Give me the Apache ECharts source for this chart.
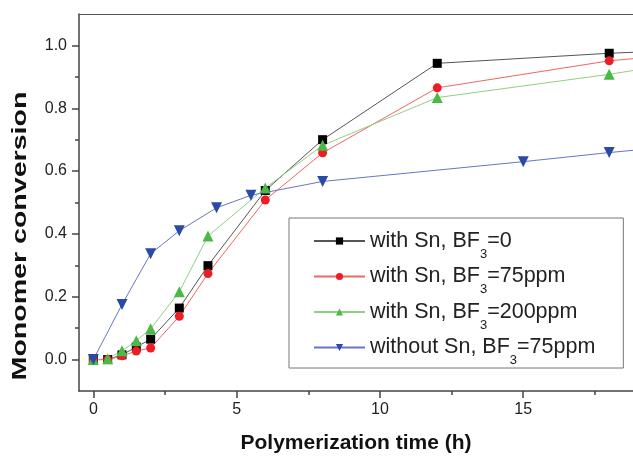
<!DOCTYPE html>
<html>
<head>
<meta charset="utf-8">
<script src="https://cdn.jsdelivr.net/npm/echarts@6/dist/echarts.min.js"></script>
<style>
  html, body { margin: 0; padding: 0; background: #fff; }
  #main { width: 633px; height: 459px; }
</style>
</head>
<body>
<div id="main"></div>
<script>
// data (time in h, conversion 0..1)
var timeSn = [0, 0.5, 1, 1.5, 2, 3, 4, 6, 8, 12, 18, 24];
var snBF0 = [0, 0, 0.015, 0.04, 0.065, 0.164, 0.299, 0.538, 0.70, 0.943, 0.975, 0.997];
var snBF75 = [0, 0, 0.012, 0.027, 0.037, 0.138, 0.274, 0.508, 0.658, 0.865, 0.951, 1.0];
var snBF200 = [0, 0.003, 0.028, 0.06, 0.098, 0.216, 0.393, 0.546, 0.682, 0.834, 0.908, 0.995];
var timeNoSn = [0, 1, 2, 3, 4.3, 5.5, 8, 15, 18, 24];
var noSnBF75 = [0, 0.175, 0.337, 0.41, 0.483, 0.523, 0.567, 0.63, 0.659, 0.71];

var xTicks = [0, 5, 10, 15];
var xMinorTicks = [2.5, 7.5, 12.5, 17.5];
var yTicks = [0, 0.2, 0.4, 0.6, 0.8, 1.0];
var yMinorTicks = [0.1, 0.3, 0.5, 0.7, 0.9];

var seriesNames = ['with Sn, BF3=0', 'with Sn, BF3=75ppm', 'with Sn, BF3=200ppm', 'without Sn, BF3=75ppm'];

function pairs(xs, ys) {
  return xs.map(function (x, i) { return [x, ys[i]]; });
}

var font = 'Liberation Sans, Arial, sans-serif';
var myChart = echarts.init(document.getElementById('main'));

function mkSeries(name, data, symbol, size, markColor, lineColor) {
  return {
    name: name,
    type: 'line',
    data: data,
    symbol: symbol,
    symbolSize: size,
    itemStyle: { color: markColor },
    lineStyle: { color: lineColor, width: 1 },
    emphasis: { disabled: true },
    animation: false
  };
}

var option = {
  animation: false,
  grid: { left: 79, right: 0, top: 14, bottom: 63 },
  xAxis: [
    {
      type: 'value', min: -0.5, max: 18.83,
      axisLine: { onZero: false, lineStyle: { color: '#444', width: 1.5 } },
      axisTick: { customValues: xTicks, length: 7, lineStyle: { color: '#444', width: 1.5 } },
      axisLabel: { customValues: xTicks, fontSize: 16, color: '#222', fontFamily: font, margin: 11 },
      splitLine: { show: false },
      name: 'Polymerization time (h)',
      nameLocation: 'middle',
      nameGap: 42,
      nameTextStyle: { fontSize: 21, fontWeight: 'bold', color: '#111', fontFamily: font }
    },
    {
      type: 'value', min: -0.5, max: 18.83, position: 'bottom',
      axisLine: { show: false, onZero: false },
      axisTick: { customValues: xMinorTicks, length: 4, lineStyle: { color: '#444', width: 1.5 } },
      axisLabel: { show: false },
      splitLine: { show: false }
    },
    {
      type: 'value', min: -0.5, max: 18.83, position: 'top',
      axisLine: { onZero: false, lineStyle: { color: '#555', width: 1 } },
      axisTick: { show: false },
      axisLabel: { show: false },
      splitLine: { show: false }
    }
  ],
  yAxis: [
    {
      type: 'value', min: -0.1, max: 1.1,
      axisLine: { show: true, onZero: false, lineStyle: { color: '#444', width: 1.5 } },
      axisTick: { show: true, customValues: yTicks, length: 7, lineStyle: { color: '#444', width: 1.5 } },
      axisLabel: {
        customValues: yTicks, fontSize: 16, color: '#222', fontFamily: font, margin: 12,
        formatter: function (v) { return v.toFixed(1); }
      },
      splitLine: { show: false }
    },
    {
      type: 'value', min: -0.1, max: 1.1, position: 'left',
      axisLine: { show: false, onZero: false },
      axisTick: { show: true, customValues: yMinorTicks, length: 4, lineStyle: { color: '#444', width: 1.5 } },
      axisLabel: { show: false },
      splitLine: { show: false }
    }
  ],
  legend: {
    orient: 'vertical',
    left: 289, top: 218,
    padding: [12, 28, 1, 24],
    itemWidth: 51, itemHeight: 9, itemGap: 5,
    backgroundColor: '#fff',
    borderColor: '#777', borderWidth: 1,
    selectedMode: false,
    data: seriesNames,
    formatter: function (name) { return name.replace('BF3', 'BF{s|3}'); },
    textStyle: {
      fontSize: 21.5, color: '#222', fontFamily: font,
      rich: {
        s: { fontSize: 13, color: '#222', fontFamily: font, verticalAlign: 'bottom', padding: [26, 0, 0, 0] }
      }
    }
  },
  graphic: [
    {
      type: 'text', x: 20.5, y: 236, rotation: Math.PI / 2, scaleX: 1.36,
      style: {
        text: 'Monomer conversion', fontSize: 21, fontWeight: 'bold', fontFamily: font,
        fill: '#111', align: 'center', verticalAlign: 'middle'
      }
    }
  ],
  series: [
    mkSeries(seriesNames[0], pairs(timeSn, snBF0), 'rect', 9, '#000', '#555'),
    mkSeries(seriesNames[1], pairs(timeSn, snBF75), 'circle', 9, '#ee1c24', '#f06565'),
    mkSeries(seriesNames[2], pairs(timeSn, snBF200), 'triangle', 11, '#4cb848', '#8fd080'),
    mkSeries(seriesNames[3], pairs(timeNoSn, noSnBF75), 'path://M0,0 L10,0 L5,9 Z', 11, '#2b4aa8', '#6677c4')
  ]
};

myChart.setOption(option);
</script>
</body>
</html>
